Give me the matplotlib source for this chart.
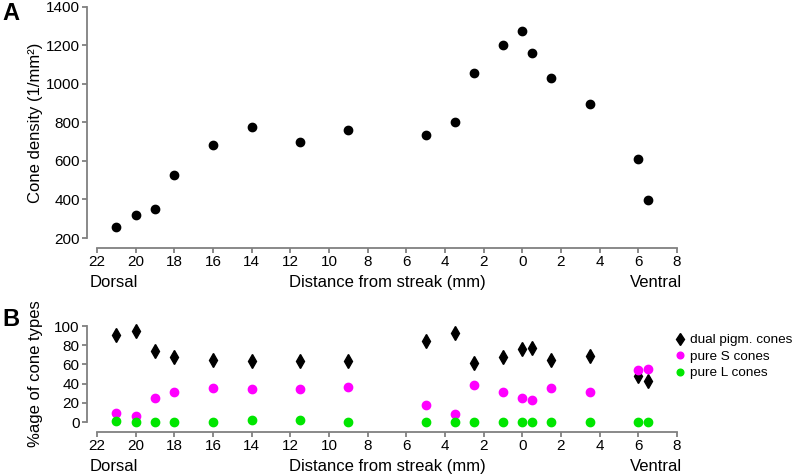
import matplotlib
matplotlib.use('Agg')
import matplotlib.pyplot as plt
import matplotlib.transforms as mtransforms
import numpy as np

plt.rcParams['font.family'] = ['Liberation Sans', 'DejaVu Sans']

# distance from streak, dorsal side negative, ventral side positive (mm)
dist = [-21, -20, -19, -18, -16, -14, -11.5, -9, -5, -3.5, -2.5, -1, 0, 0.5, 1.5, 3.5, 6, 6.5]

# panel A: cone density (1/mm^2)
density = [257, 321, 349, 525, 684, 776, 700, 760, 733, 800, 1058, 1203, 1276, 1160, 1029, 895, 608, 396]

# panel B: percentage of cone types
dual_pct = [91, 95, 74, 68, 65, 64, 63.5, 63.5, 84, 93, 61, 68, 76, 77, 65, 69, 48, 43]
pure_s_pct = [9, 6, 25, 31.5, 35.5, 34, 34, 36, 17.5, 8.5, 39, 31.5, 24.5, 22.5, 35, 31.5, 54, 55.5]
pure_l_pct = [1, 0, 0, 0, 0, 1.7, 1.7, 0, 0, 0, 0, 0, 0, 0, 0, 0, 0, 0]

xticks = list(range(-22, 9, 2))
xticklabels = [str(abs(t)) for t in xticks]

GRAY = '#808080'
FS = 11     # tick labels
LFS = 12    # axis labels
LOW = -49   # baseline of the Dorsal / xlabel / Ventral row, pixels below axes


def style_axes(ax, ylim, yticks):
    ax.set_xlim(-22, 8)
    ax.set_ylim(*ylim)
    for s in ['top', 'right']:
        ax.spines[s].set_visible(False)
    for s in ['left', 'bottom']:
        ax.spines[s].set_color(GRAY)
        ax.spines[s].set_linewidth(1.3)
        ax.spines[s].set_position(('outward', 7))
    ax.spines['bottom'].set_bounds(-22, 8)
    ax.spines['left'].set_bounds(*ylim)
    ax.set_xticks(xticks)
    ax.set_xticklabels(xticklabels)
    ax.set_yticks(yticks)
    ax.tick_params(axis='both', direction='out', length=3.5, width=1.3,
                   color=GRAY, labelsize=FS, labelcolor='black', pad=2)
    ax.set_xlabel('Distance from streak (mm)', fontsize=LFS, va='baseline')
    tr = mtransforms.offset_copy(ax.transAxes, fig=ax.figure, y=LOW, units='dots')
    ax.xaxis.set_label_coords(0.5, 0, transform=tr)
    ax.annotate('Dorsal', xy=(-22, 0), xycoords=('data', 'axes fraction'),
                xytext=(-7, LOW), textcoords='offset pixels',
                ha='left', va='baseline', fontsize=LFS)
    ax.annotate('Ventral', xy=(8, 0), xycoords=('data', 'axes fraction'),
                xytext=(5, LOW), textcoords='offset pixels',
                ha='right', va='baseline', fontsize=LFS)
    ax.yaxis.set_label_coords(-0.093, 0.5)


fig = plt.figure(figsize=(7.95, 4.75), dpi=100)
ax1 = fig.add_axes([97 / 795, 1 - 238 / 475, 580 / 795, (238 - 6.7) / 475])
ax2 = fig.add_axes([97 / 795, 1 - 422 / 475, 580 / 795, 96 / 475])

ax1.plot(dist, density, 'o', color='black', markersize=6, clip_on=False)
style_axes(ax1, (200, 1400), range(200, 1401, 200))
ax1.set_ylabel('Cone density (1/mm²)', fontsize=LFS)

ax2.plot(dist, dual_pct, 'd', color='black', markersize=7.5, clip_on=False,
         label='dual pigm. cones')
ax2.plot(dist, pure_s_pct, 'o', color='#ff00ff', markersize=6, clip_on=False,
         label='pure S cones')
ax2.plot(dist, pure_l_pct, 'o', color='#00e600', markersize=6, clip_on=False,
         label='pure L cones')
style_axes(ax2, (0, 100), range(0, 101, 20))
ax2.set_ylabel('%age of cone types', fontsize=LFS)

ax2.legend(loc='upper left', bbox_to_anchor=(675 / 795, 1 - 334 / 475),
           bbox_transform=fig.transFigure, frameon=False, fontsize=9.7,
           handlelength=0.8, handletextpad=0.3, labelspacing=0.3,
           borderpad=0, borderaxespad=0, markerscale=0.8)

fig.text(2 / 795, 1 - 13 / 475, 'A', fontsize=17, fontweight='bold', va='center')
fig.text(2 / 795, 1 - 320 / 475, 'B', fontsize=17, fontweight='bold', va='center')

fig.savefig('out.png', dpi=100)
